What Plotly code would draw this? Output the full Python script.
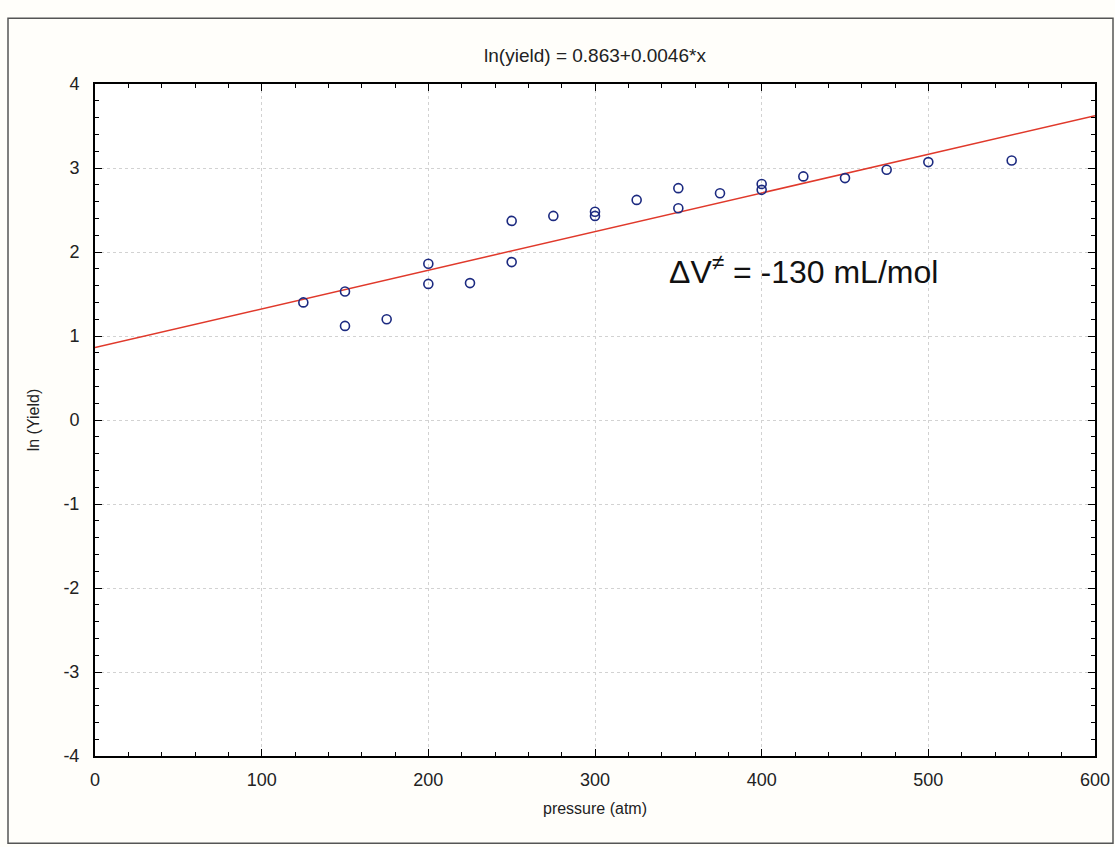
import plotly.graph_objects as go

pressure = [125, 150, 150, 175, 200, 200, 225, 250, 250, 275, 300, 300, 325, 350, 350, 375, 400, 400, 425, 450, 475, 500, 550]
ln_yield = [1.40, 1.53, 1.12, 1.20, 1.86, 1.62, 1.63, 2.37, 1.88, 2.43, 2.48, 2.43, 2.62, 2.76, 2.52, 2.70, 2.81, 2.74, 2.90, 2.88, 2.98, 3.07, 3.09]
intercept = 0.863
slope = 0.0046
fit_x = [0, 600]
fit_y = [intercept + slope * v for v in fit_x]
x_ticks = [0, 100, 200, 300, 400, 500, 600]
y_ticks = [-4, -3, -2, -1, 0, 1, 2, 3, 4]
y_ticktext = ["-4", "-3", "-2", "-1", "0", "1", "2", "3", "4"]

font = "Liberation Sans, Arial, sans-serif"

fig = go.Figure()
fig.add_trace(go.Scatter(x=fit_x, y=fit_y, mode="lines",
                         line=dict(color="#e0392b", width=1.5), showlegend=False))
fig.add_trace(go.Scatter(x=pressure, y=ln_yield, mode="markers",
                         marker=dict(symbol="circle-open", size=9, color="#1c2a80",
                                     line=dict(width=1.6, color="#1c2a80")),
                         showlegend=False))

axis_common = dict(showline=True, linecolor="black", linewidth=2, mirror="ticks",
                   ticks="inside", ticklen=7, tickcolor="black", tickwidth=1.2,
                   showgrid=True, gridcolor="#d2d2d2", griddash="dot", gridwidth=1,
                   zeroline=False, automargin=False,
                   tickfont=dict(family=font, size=18, color="#222"))

fig.update_xaxes(range=[0, 600], tickvals=x_ticks, ticklabelstandoff=6, **axis_common,
                 minor=dict(ticks="inside", ticklen=4, dtick=20, tickcolor="black", showgrid=False),
                 title=dict(text="pressure (atm)", font=dict(family=font, size=16, color="#222"), standoff=14))
fig.update_yaxes(range=[-4, 4], tickvals=y_ticks, ticktext=y_ticktext, ticklabelstandoff=10, **axis_common,
                 minor=dict(ticks="inside", ticklen=4, dtick=0.2, tickcolor="black", showgrid=False),
                 title=dict(text="ln (Yield)", font=dict(family=font, size=16, color="#222"), standoff=20))

fig.add_annotation(x=343, y=1.79, xref="x", yref="y", xanchor="left", yanchor="middle",
                   text="ΔV<sup>≠</sup> = -130 mL/mol", showarrow=False,
                   font=dict(family=font, size=32, color="#111"))

fig.add_shape(type="rect", xref="paper", yref="paper", x0=-0.087, x1=1.018, y0=-0.13, y1=1.098,
              line=dict(color="#555", width=1.5), layer="below")

fig.update_layout(
    width=1115, height=847,
    margin=dict(l=95, r=20, t=84, b=91),
    paper_bgcolor="#fffefa", plot_bgcolor="white",
    title=dict(text="ln(yield) = 0.863+0.0046*x", x=0.5, xref="paper", y=0.935, yref="container",
               xanchor="center", yanchor="middle",
               font=dict(family=font, size=19, color="#222")),
)

fig.write_html("out.html")
